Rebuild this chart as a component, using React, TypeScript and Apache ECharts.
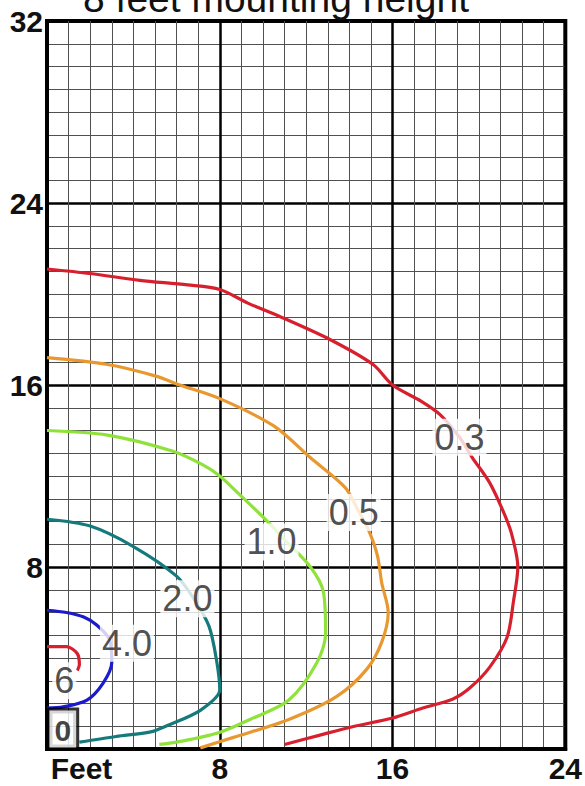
import React, { useEffect, useRef } from "react";
import * as echarts from "echarts";

// Axis ticks
const xTicks = [0, 8, 16, 24];
const yTicks = [0, 8, 16, 24, 32];
const titleText = "8 feet mounting height";
const xFirstLabel = "Feet";
const originLabel = "0";

// Iso-contour lines (feet, feet)
const c03: [number, number][] = [
  [0, 21.1], [2, 20.9], [4.3, 20.6], [6.5, 20.4], [8, 20.2], [9.3, 19.6], [10.8, 19.0],
  [13.1, 18.0], [15.1, 16.9], [16, 16.0], [17.3, 15.3], [18.2, 14.7], [19.1, 13.7],
  [19.7, 12.8], [20.5, 11.7], [21.1, 10.5], [21.5, 9.5], [21.8, 8.0], [21.6, 6.5],
  [21.3, 4.9], [20.5, 3.6], [19.6, 2.7], [18.8, 2.2], [17.4, 1.8], [16, 1.36],
  [14.1, 0.97], [12.6, 0.6], [11.0, 0.2],
];
const c05: [number, number][] = [
  [0, 17.2], [2.8, 16.9], [5, 16.4], [6.15, 16.0], [8, 15.4], [10.5, 14.2], [12.2, 12.8],
  [13.8, 11.5], [14.4, 10.5], [14.9, 9.6], [15.3, 8.5], [15.5, 7.3], [15.8, 6.0],
  [15.5, 4.7], [14.8, 3.5], [13.4, 2.3], [11.2, 1.3], [8.6, 0.5], [7.1, 0.05],
];
const c10: [number, number][] = [
  [0, 14.0], [2.8, 13.8], [5.8, 13.1], [7.2, 12.5], [8, 12.0], [8.9, 11.2], [10.0, 10.2],
  [11.0, 9.2], [12.2, 8.0], [12.8, 6.9], [12.9, 5.1], [12.5, 3.8], [11.2, 2.15],
  [9.4, 1.3], [7.9, 0.7], [6.0, 0.3], [5.2, 0.2],
];
const c20: [number, number][] = [
  [0, 10.1], [2.0, 9.8], [4.0, 8.9], [6.0, 7.6], [6.8, 6.6], [7.5, 5.4], [7.85, 3.9],
  [8.0, 2.6], [7.1, 1.7], [5.5, 1.0], [4.8, 0.75], [3.2, 0.55], [1.5, 0.3],
];
const c40: [number, number][] = [
  [0, 6.1], [0.9, 6.0], [1.7, 5.8], [2.3, 5.45], [2.9, 4.8], [3.0, 3.8], [2.6, 2.9],
  [1.85, 2.15], [0.75, 1.85], [0, 1.8],
];
const c60: [number, number][] = [
  [0, 4.5], [0.9, 4.5], [1.4, 4.2], [1.5, 3.7], [1.4, 3.45],
];

// Contour label positions and texts
const labelNames = ["0.3", "0.5", "1.0", "2.0", "4.0", "6"];
const labelX = [19.1, 14.2, 10.4, 6.5, 3.7, 0.8];
const labelY = [13.7, 10.4, 9.1, 6.6, 4.65, 3.0];

const contours = [
  { data: c03, color: "#d71f2e" },
  { data: c05, color: "#e8982f" },
  { data: c10, color: "#8fe23a" },
  { data: c20, color: "#157a7b" },
  { data: c40, color: "#1b1bcc" },
  { data: c60, color: "#d71f2e" },
];

const FONT = "'Liberation Sans', Arial, Helvetica, sans-serif";

export default function App() {
  const ref = useRef<HTMLDivElement>(null);
  useEffect(() => {
    if (!ref.current) return;
    const chart = echarts.init(ref.current, undefined, { renderer: "svg" });
    const minorLine = { show: true, lineStyle: { color: "#505050", width: 1 } };
    const majorLine = { show: true, lineStyle: { color: "#000", width: 2.5 } };
    const option: any = {
      animation: false,
      backgroundColor: "#fff",
      grid: {
        left: 47, right: 19, top: 21, bottom: 37,
        show: true, borderColor: "#000", borderWidth: 4, backgroundColor: "#fff",
      },
      graphic: [
        {
          type: "text", x: 276, y: -1.5, z: 10,
          style: {
            text: titleText, fontSize: 39, fontFamily: FONT, fill: "#111",
            align: "center", verticalAlign: "middle",
          },
        },
      ],
      xAxis: {
        type: "value", min: xTicks[0], max: xTicks[xTicks.length - 1], interval: xTicks[1] - xTicks[0],
        axisLine: { show: true, onZero: false, lineStyle: { color: "#000", width: 4 } },
        axisTick: { show: false },
        minorTick: { show: false, splitNumber: 8 },
        splitLine: majorLine,
        minorSplitLine: minorLine,
        axisLabel: {
          margin: 4, fontSize: 30, fontWeight: "bold", fontFamily: FONT, color: "#111",
          formatter: (v: number) => (v === 0 ? `{feet|${xFirstLabel}}` : String(v)),
          rich: {
            feet: { fontSize: 30, fontWeight: "bold", fontFamily: FONT, color: "#111", padding: [0, 0, 0, 69] },
          },
        },
      },
      yAxis: {
        type: "value", min: yTicks[0], max: yTicks[yTicks.length - 1], interval: yTicks[1] - yTicks[0],
        axisLine: { show: true, onZero: false, lineStyle: { color: "#000", width: 4 } },
        axisTick: { show: false },
        minorTick: { show: false, splitNumber: 8 },
        splitLine: majorLine,
        minorSplitLine: minorLine,
        axisLabel: {
          margin: 4, fontSize: 30, fontWeight: "bold", fontFamily: FONT, color: "#111",
          formatter: (v: number) => (v === 0 ? "" : String(v)),
        },
      },
      series: [
        ...contours.map((c) => ({
          type: "line",
          data: c.data,
          smooth: 0.3,
          symbol: "none",
          clip: true,
          z: 3,
          lineStyle: { color: c.color, width: 3.2 },
        })),
        {
          type: "scatter",
          z: 6,
          symbolSize: 1,
          itemStyle: { color: "rgba(0,0,0,0)" },
          data: labelNames.map((n, i) => [labelX[i], labelY[i], n]),
          label: {
            show: true, position: "inside",
            formatter: (p: any) => p.value[2],
            fontSize: 36, fontFamily: FONT, color: "#222",
            backgroundColor: "#fff", padding: [1, 2, 0, 2], lineHeight: 36,
          },
        },
        {
          type: "scatter",
          z: 7,
          clip: false,
          symbolSize: 1,
          itemStyle: { color: "rgba(0,0,0,0)" },
          data: [[xTicks[0], yTicks[0]]],
          label: {
            show: true, position: [3, -1], align: "left", verticalAlign: "bottom",
            formatter: originLabel,
            fontSize: 30, fontWeight: "bold", fontFamily: FONT, color: "#111",
            backgroundColor: "#fff", borderColor: "#000", borderWidth: 3,
            padding: [4, 5, 1, 5], lineHeight: 32,
          },
        },
      ],
    };
    chart.setOption(option);
    return () => chart.dispose();
  }, []);
  return (
    <div
      ref={ref}
      style={{ position: "absolute", left: 0, top: 0, width: 585, height: 786, background: "#fff" }}
    />
  );
}
